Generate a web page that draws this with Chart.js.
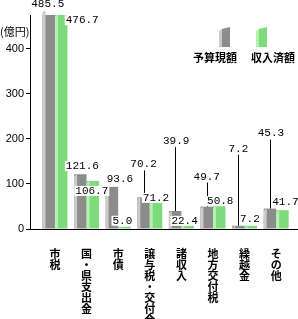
<!DOCTYPE html>
<html>
<head>
<meta charset="utf-8">
<script src="https://cdn.jsdelivr.net/npm/chart.js@4"></script>
<style>
  html, body { margin: 0; padding: 0; background: #fff; }
  #wrap { width: 298px; height: 319px; }
</style>
</head>
<body>
<div id="wrap"><canvas id="chart" width="298" height="319"></canvas></div>
<script>
// data
const categories = ['市税', '国・県支出金', '市債', '譲与税・交付金', '諸収入', '地方交付税', '繰越金', 'その他'];
const budget = [485.5, 121.6, 93.6, 70.2, 39.9, 49.7, 7.2, 45.3];   // 予算現額
const received = [476.7, 106.7, 5.0, 71.2, 22.4, 50.8, 7.2, 41.7]; // 収入済額
const yTicks = [0, 100, 200, 300, 400];
const seriesNames = ['予算現額', '収入済額'];
const unitLabel = '(億円)';

// label placement: [dx, dy, leader] relative to bar top centre
const budgetLabelPos = [[-1, -6.5, false], [2, -8, false], [8, -8, false], [0, -33, true],
                        [1, -70, true], [0, -30, true], [0, -77, true], [1, -75, true]];
const receivedLabelPos = [[21, 6, false], [-1, 10, false], [-2, -6, false], [0, 1, false],
                          [-3, 2, false], [1, -5, false], [-1, -7, false], [3, -8, false]];

const GRAY = '#8b8d8b', GRAY_SIDE = '#cacbca';
const GREEN = '#7edb7b', GREEN_SIDE = '#b4f0ae';
const NUM_FONT = '11px "Liberation Mono", "DejaVu Sans Mono", monospace';
const JP_FONT = '"Noto Sans CJK JP", "Noto Sans", sans-serif';

// lighter left face so the bars look like the 3D original
const sideFaces = {
    id: 'sideFaces',
    afterDatasetsDraw(chart) {
        const ctx = chart.ctx;
        const sides = [GRAY_SIDE, GREEN_SIDE];
        chart.data.datasets.forEach((ds, di) => {
            chart.getDatasetMeta(di).data.forEach(bar => {
                const x0 = bar.x - bar.width / 2;
                const top = bar.y, base = bar.base;
                const d = 3;
                ctx.save();
                ctx.fillStyle = sides[di];
                ctx.beginPath();
                ctx.moveTo(x0, Math.min(top + 2, base));
                ctx.lineTo(x0 + d, top);
                ctx.lineTo(x0 + d, base);
                ctx.lineTo(x0, base);
                ctx.closePath();
                ctx.fill();
                ctx.restore();
            });
        });
    }
};

// value labels, leaders, unit and legend
const annotations = {
    id: 'annotations',
    afterDraw(chart) {
        const ctx = chart.ctx;
        const values = [budget, received];
        const places = [budgetLabelPos, receivedLabelPos];
        ctx.save();
        ctx.font = NUM_FONT;
        ctx.textAlign = 'center';
        ctx.textBaseline = 'middle';
        for (let di = 0; di < 2; di++) {
            chart.getDatasetMeta(di).data.forEach((bar, i) => {
                const [dx, dy, leader] = places[di][i];
                const txt = values[di][i].toFixed(1);
                const x = bar.x + dx, y = bar.y + dy;
                const w = ctx.measureText(txt).width;
                if (leader) {
                    ctx.strokeStyle = '#000';
                    ctx.lineWidth = 1;
                    ctx.beginPath();
                    ctx.moveTo(Math.round(bar.x) + 0.5, y + 6);
                    ctx.lineTo(Math.round(bar.x) + 0.5, bar.y);
                    ctx.stroke();
                }
                ctx.fillStyle = '#fff';
                ctx.fillRect(x - w / 2 - 1, y - 5, w + 2, 10);
                ctx.fillStyle = '#000';
                ctx.fillText(txt, x, y);
            });
        }

        // unit
        ctx.font = '11px ' + JP_FONT;
        ctx.textAlign = 'left';
        ctx.fillText(unitLabel, 0, 32);

        // legend
        const swatches = [[219, GRAY, GRAY_SIDE, 215], [256, GREEN, GREEN_SIDE, 273]];
        swatches.forEach(([sx, front, side, tx], k) => {
            ctx.fillStyle = side;
            ctx.beginPath();
            ctx.moveTo(sx, 31);
            ctx.lineTo(sx + 3, 29);
            ctx.lineTo(sx + 3, 47);
            ctx.lineTo(sx, 47);
            ctx.closePath();
            ctx.fill();
            ctx.fillStyle = front;
            ctx.beginPath();
            ctx.moveTo(sx + 3, 29);
            ctx.lineTo(sx + 11, 27);
            ctx.lineTo(sx + 11, 47);
            ctx.lineTo(sx + 3, 47);
            ctx.closePath();
            ctx.fill();
            ctx.fillStyle = '#000';
            ctx.textAlign = 'center';
            ctx.font = 'bold 11px ' + JP_FONT;
            ctx.fillText(seriesNames[k], tx, 58);
        });
        ctx.restore();
    }
};

function initializeChart() {
    const ctx = document.getElementById('chart');
    new Chart(ctx, {
        type: 'bar',
        data: {
            datasets: [
                {
                    label: seriesNames[0],
                    data: budget.map((v, i) => ({ x: i, y: v })),
                    backgroundColor: GRAY,
                    borderWidth: 0
                },
                {
                    label: seriesNames[1],
                    data: received.map((v, i) => ({ x: i, y: v })),
                    backgroundColor: GREEN,
                    borderWidth: 0
                }
            ]
        },
        options: {
            responsive: false,
            animation: false,
            devicePixelRatio: 1,
            categoryPercentage: 0.79,
            barPercentage: 1,
            layout: { padding: { top: 15, left: 0, right: 0, bottom: 0 } },
            plugins: {
                legend: { display: false },
                tooltip: { enabled: false }
            },
            scales: {
                x: {
                    type: 'linear',
                    offset: false,
                    min: -0.79,
                    max: 7.69,
                    afterFit: scale => { scale.height = 90; },
                    grid: { display: false, offset: false },
                    border: { display: true, color: '#000', width: 1 },
                    ticks: {
                        stepSize: 1,
                        includeBounds: false,
                        autoSkip: false,
                        maxRotation: 0,
                        padding: 11,
                        color: '#000',
                        font: { family: JP_FONT, size: 11, weight: 'bold', lineHeight: 1.0 },
                        callback: value => Number.isInteger(value) && categories[value]
                            ? Array.from(categories[value]) : ''
                    }
                },
                y: {
                    min: 0,
                    max: 475,
                    afterFit: scale => { scale.width = 30; },
                    grid: {
                        drawOnChartArea: false,
                        tickLength: 4,
                        tickColor: c => yTicks.includes(c.tick.value) ? '#000' : 'rgba(0,0,0,0)'
                    },
                    border: { display: true, color: '#000', width: 1 },
                    ticks: {
                        stepSize: 100,
                        includeBounds: false,
                        padding: 2,
                        color: '#000',
                        font: { family: 'Liberation Sans', size: 11 },
                        callback: value => yTicks.includes(value) ? String(value) : ''
                    }
                }
            }
        },
        plugins: [sideFaces, annotations]
    });
}

initializeChart();
</script>
</body>
</html>
